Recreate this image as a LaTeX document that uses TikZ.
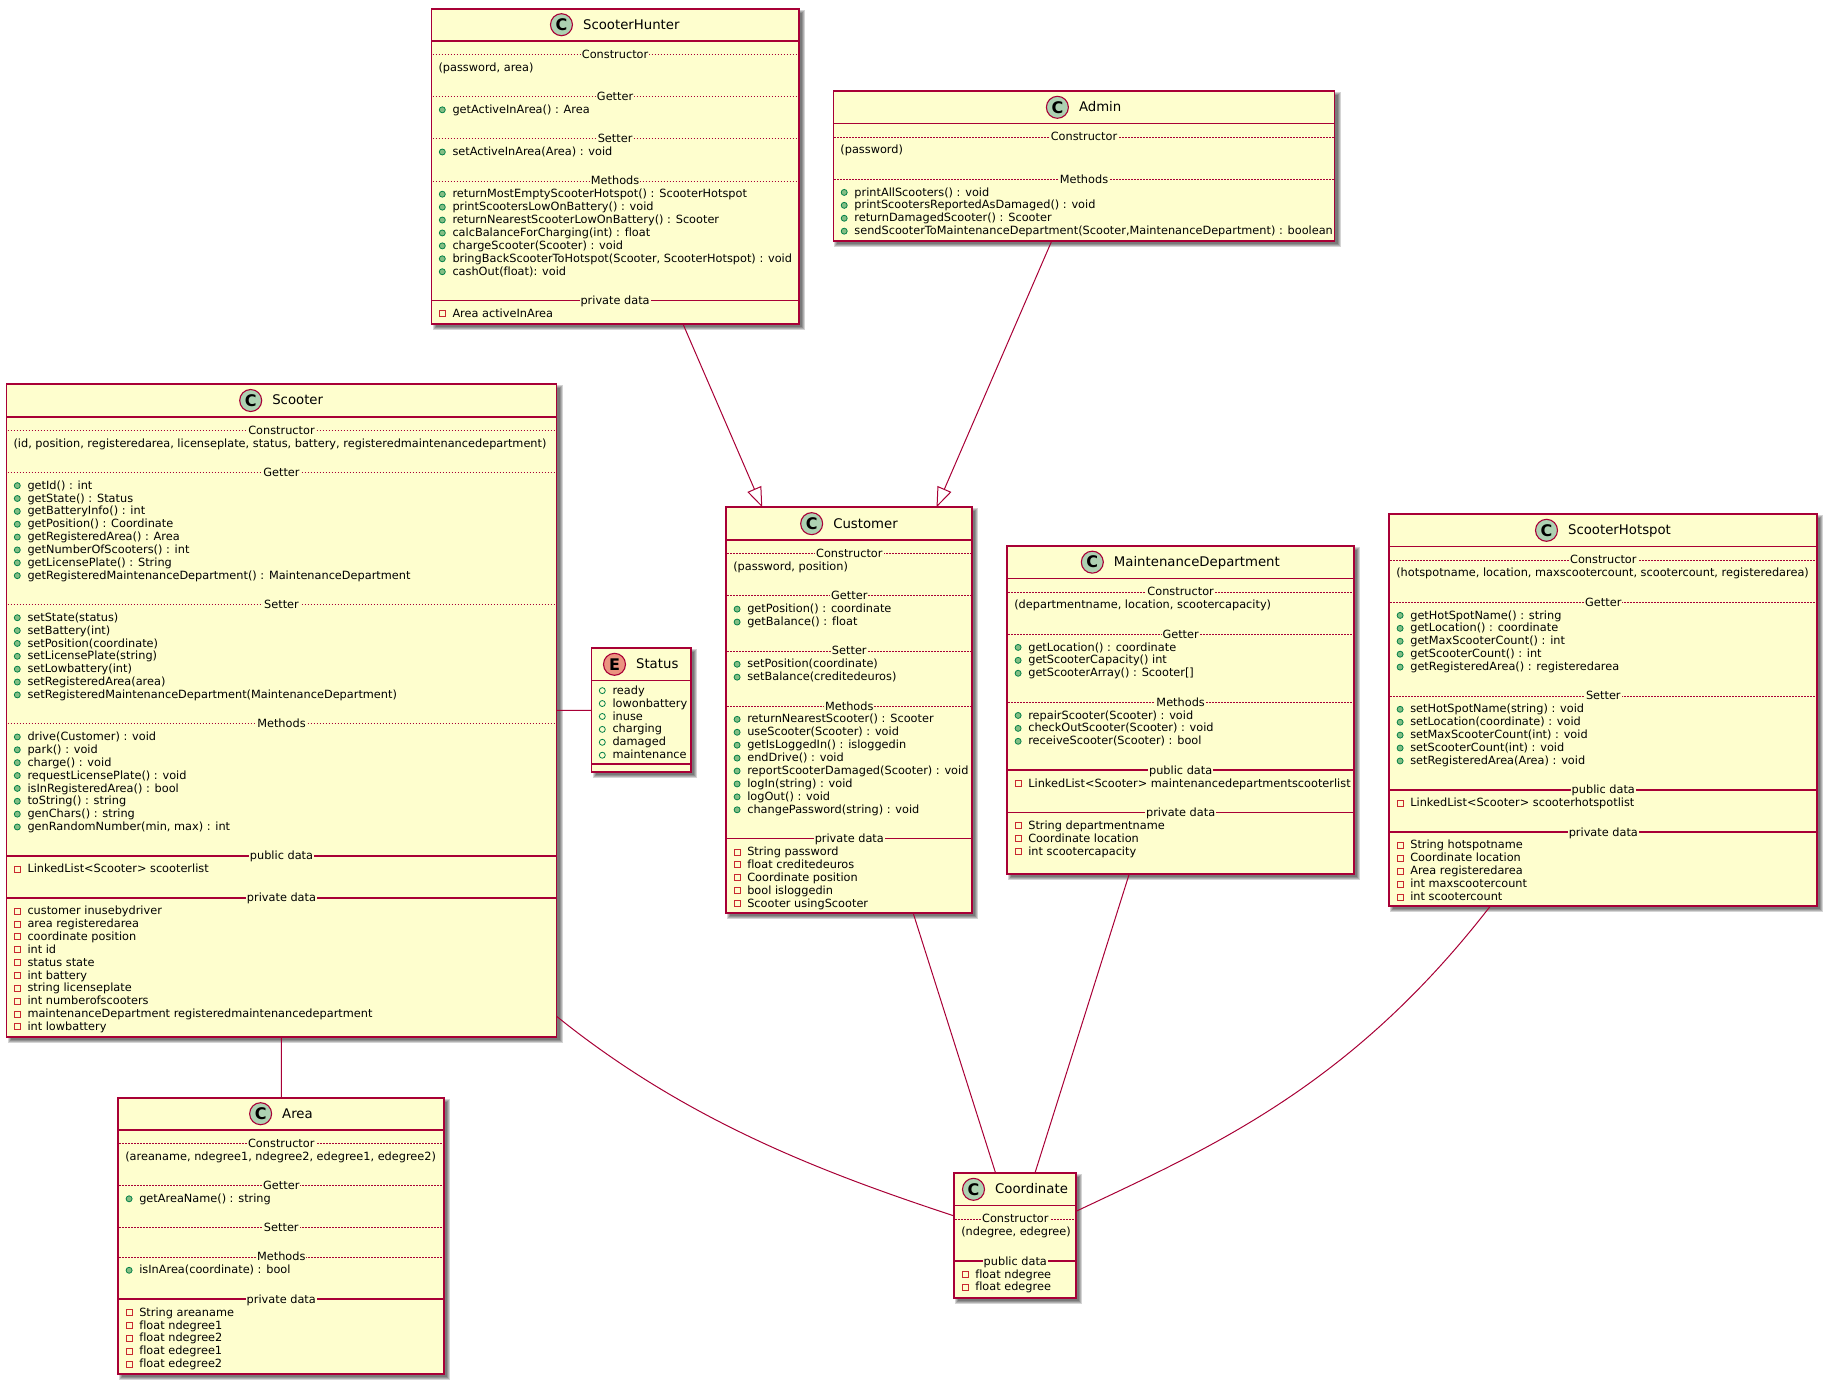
\documentclass[tikz,border=0pt]{standalone}
\usepackage{fontspec}
\setmainfont[Ligatures=NoCommon]{DejaVu Sans}
\usetikzlibrary{arrows.meta}

\definecolor{umlline}{HTML}{A80036}
\definecolor{umlfill}{HTML}{FEFECE}
\definecolor{classmark}{HTML}{ADD1B2}
\definecolor{enummark}{HTML}{EB937F}
\definecolor{pubfill}{HTML}{84BE84}
\definecolor{publine}{HTML}{038048}
\definecolor{privline}{HTML}{C82930}

\newcommand{\rowfont}{\fontsize{11.32}{13}\selectfont}
\newcommand{\titlefont}{\fontsize{13.28}{16}\selectfont}

\tikzset{
  boxshape/.style={draw=umlline, fill=umlfill, line width=1.8pt, rectangle, inner sep=0pt, outer sep=0pt},
  markshape/.style={draw=umlline, line width=1.1pt, circle, minimum size=22pt, inner sep=0pt,
    font=\fontsize{16}{16}\selectfont\bfseries, text=black},
  titletext/.style={anchor=base, inner sep=0pt, font=\titlefont, text=black},
  rowtext/.style={anchor=base west, inner sep=0pt, font=\rowfont, text=black},
  seplabel/.style={anchor=base, fill=umlfill, inner xsep=1pt, inner ysep=0pt, font=\rowfont, text=black},
  dotline/.style={draw=umlline, line width=0.7pt, dash pattern=on 1.2pt off 1.8pt},
  solidline/.style={draw=umlline, line width=1.6pt},
  pubicon/.style={circle, draw=publine, fill=pubfill, line width=0.8pt, minimum size=6pt, inner sep=0pt},
  fieldicon/.style={circle, draw=publine, fill=none, line width=0.8pt, minimum size=6pt, inner sep=0pt},
  privicon/.style={rectangle, draw=privline, fill=none, line width=0.9pt, minimum size=6pt, inner sep=0pt},
  assoc/.style={draw=umlline, line width=1pt},
  inherit/.style={assoc, -{Triangle[open, length=20pt, width=15pt]}}
}

\newcounter{rowid}
\newcommand{\rowstep}{12.92}

\newcommand{\nextrow}[1]{\pgfmathsetmacro\tmpy{\rowy+#1}\global\let\rowy\tmpy}

% name, left, top, right, bottom, header line, title, letter, mark colour
\newcommand{\classbox}[9]{
  \pgfmathsetmacro\boxw{#4-#2}
  \pgfmathsetmacro\boxh{#5-#3}
  \pgfmathsetmacro\boxc{(#2+#4)/2}
  \pgfmathsetmacro\boxm{(#3+#5)/2}
  \pgfmathsetmacro\headc{(#3+#6)/2}
  \foreach \e in {2.5,1.5,0.5,-0.5}{
    \fill[black, opacity=0.17] (#2+3.5-\e,#3+3.5-\e) rectangle (#4+3.5+\e,#5+3.5+\e);
  }
  \node[boxshape, minimum width=\boxw pt, minimum height=\boxh pt] (#1) at (\boxc,\boxm) {};
  \draw[solidline] (#2,#6) -- (#4,#6);
  \node[titletext] (#1title) at (\boxc,\headc+4.4) {\hspace*{32.4pt}#7};
  \node[markshape, fill=#9] (#1mark) at ([xshift=11pt,yshift=4.4pt]#1title.base west) {#8};
  \xdef\curbox{#1}\xdef\curL{#2}\xdef\curR{#4}\xdef\curC{\boxc}
  \pgfmathsetmacro\tmpy{#6-2.75}\global\let\rowy\tmpy
}

\newcommand{\blankrow}{\nextrow{\rowstep}}
\newcommand{\rawrow}[1]{
  \nextrow{\rowstep}\stepcounter{rowid}
  \node[rowtext] (\curbox\therowid) at (\curL+6.8,\rowy+4) {#1};
}
\newcommand{\iconrows}[2]{
  \foreach \lbl in {#2}{
    \nextrow{\rowstep}\stepcounter{rowid}
    \node[#1] (\curbox i\therowid) at (\curL+10.8,\rowy+0.4) {};
    \node[rowtext] (\curbox\therowid) at (\curL+20.8,\rowy+4) {\lbl};
  }
}
\newcommand{\pubrows}[1]{\iconrows{pubicon}{#1}}
\newcommand{\privrows}[1]{\iconrows{privicon}{#1}}
\newcommand{\dotsep}[1]{
  \nextrow{16.35}\stepcounter{rowid}
  \draw[dotline] (\curL+1,\rowy) -- (\curR-1,\rowy);
  \node[seplabel] (\curbox\therowid) at (\curC,\rowy+4) {#1};
}
\newcommand{\solidsep}[1]{
  \nextrow{16.35}\stepcounter{rowid}
  \draw[solidline] (\curL,\rowy) -- (\curR,\rowy);
  \node[seplabel] (\curbox\therowid) at (\curC,\rowy+4) {#1};
}

\begin{document}
\begin{tikzpicture}[x=1pt, y=-1pt]
  \useasboundingbox (0,0) rectangle (1827,1384);

  % Scooter hunter
  \classbox{hunter}{431.5}{8.7}{798.7}{324.3}{40.7}{ScooterHunter}{C}{classmark}
  \dotsep{Constructor}
  \rawrow{(password, area)}
  \blankrow
  \dotsep{Getter}
  \pubrows{getActiveInArea() : Area}
  \blankrow
  \dotsep{Setter}
  \pubrows{setActiveInArea(Area) : void}
  \blankrow
  \dotsep{Methods}
  \pubrows{returnMostEmptyScooterHotspot() : ScooterHotspot, printScootersLowOnBattery() : void,
    returnNearestScooterLowOnBattery() : Scooter, calcBalanceForCharging(int) : float,
    chargeScooter(Scooter) : void, {bringBackScooterToHotspot(Scooter, ScooterHotspot) : void},
    cashOut(float): void}
  \blankrow
  \solidsep{private data}
  \privrows{Area activeInArea}

  % Admin
  \classbox{admin}{833.4}{91.3}{1334.5}{241.3}{123.3}{Admin}{C}{classmark}
  \dotsep{Constructor}
  \rawrow{(password)}
  \blankrow
  \dotsep{Methods}
  \pubrows{printAllScooters() : void, printScootersReportedAsDamaged() : void,
    returnDamagedScooter() : Scooter,
    {sendScooterToMaintenanceDepartment(Scooter,MaintenanceDepartment) : boolean}}

  % Scooter
  \renewcommand{\rowstep}{12.86}
  \classbox{scooter}{6.5}{384.3}{556.5}{1037.3}{416.7}{Scooter}{C}{classmark}
  \dotsep{Constructor}
  \rawrow{(id, position, registeredarea, licenseplate, status, battery, registeredmaintenancedepartment)}
  \blankrow
  \dotsep{Getter}
  \pubrows{getId() : int, getState() : Status, getBatteryInfo() : int, getPosition() : Coordinate,
    getRegisteredArea() : Area, getNumberOfScooters() : int, getLicensePlate() : String,
    getRegisteredMaintenanceDepartment() : MaintenanceDepartment}
  \blankrow
  \dotsep{Setter}
  \pubrows{setState(status), setBattery(int), setPosition(coordinate), setLicensePlate(string),
    setLowbattery(int), setRegisteredArea(area),
    setRegisteredMaintenanceDepartment(MaintenanceDepartment)}
  \blankrow
  \dotsep{Methods}
  \pubrows{drive(Customer) : void, park() : void, charge() : void, requestLicensePlate() : void,
    isInRegisteredArea() : bool, toString() : string, genChars() : string,
    {genRandomNumber(min, max) : int}}
  \blankrow
  \solidsep{public data}
  \privrows{LinkedList<Scooter> scooterlist}
  \blankrow
  \solidsep{private data}
  \privrows{customer inusebydriver, area registeredarea, coordinate position, int id, status state,
    int battery, string licenseplate, int numberofscooters,
    maintenanceDepartment registeredmaintenancedepartment, int lowbattery}
  \renewcommand{\rowstep}{12.92}

  % Status enum
  \classbox{status}{591.5}{648.3}{690.6}{772.3}{680.3}{Status}{E}{enummark}
  \pgfmathsetmacro\rowy{677.3}
  \iconrows{fieldicon}{ready, lowonbattery, inuse, charging, damaged, maintenance}
  \draw[solidline] (591.5,764) -- (690.6,764);

  % Customer
  \classbox{customer}{726.3}{507.3}{972.3}{913.3}{540}{Customer}{C}{classmark}
  \dotsep{Constructor}
  \rawrow{(password, position)}
  \blankrow
  \dotsep{Getter}
  \pubrows{getPosition() : coordinate, getBalance() : float}
  \blankrow
  \dotsep{Setter}
  \pubrows{setPosition(coordinate), setBalance(creditedeuros)}
  \blankrow
  \dotsep{Methods}
  \pubrows{returnNearestScooter() : Scooter, useScooter(Scooter) : void, getIsLoggedIn() : isloggedin,
    endDrive() : void, reportScooterDamaged(Scooter) : void, logIn(string) : void, logOut() : void,
    changePassword(string) : void}
  \blankrow
  \solidsep{private data}
  \privrows{String password, float creditedeuros, Coordinate position, bool isloggedin,
    Scooter usingScooter}

  % Maintenance department
  \classbox{maintenance}{1007.3}{546}{1354}{874}{578.3}{MaintenanceDepartment}{C}{classmark}
  \dotsep{Constructor}
  \rawrow{(departmentname, location, scootercapacity)}
  \blankrow
  \dotsep{Getter}
  \pubrows{getLocation() : coordinate, getScooterCapacity() int, getScooterArray() : Scooter[]}
  \blankrow
  \dotsep{Methods}
  \pubrows{repairScooter(Scooter) : void, checkOutScooter(Scooter) : void, receiveScooter(Scooter) : bool}
  \blankrow
  \solidsep{public data}
  \privrows{LinkedList<Scooter> maintenancedepartmentscooterlist}
  \blankrow
  \solidsep{private data}
  \privrows{String departmentname, Coordinate location, int scootercapacity}

  % Scooter hotspot
  \classbox{hotspot}{1389.3}{514.3}{1817.3}{906.3}{546.3}{ScooterHotspot}{C}{classmark}
  \dotsep{Constructor}
  \rawrow{(hotspotname, location, maxscootercount, scootercount, registeredarea)}
  \blankrow
  \dotsep{Getter}
  \pubrows{getHotSpotName() : string, getLocation() : coordinate, getMaxScooterCount() : int,
    getScooterCount() : int, getRegisteredArea() : registeredarea}
  \blankrow
  \dotsep{Setter}
  \pubrows{setHotSpotName(string) : void, setLocation(coordinate) : void,
    setMaxScooterCount(int) : void, setScooterCount(int) : void, setRegisteredArea(Area) : void}
  \blankrow
  \solidsep{public data}
  \privrows{LinkedList<Scooter> scooterhotspotlist}
  \blankrow
  \solidsep{private data}
  \privrows{String hotspotname, Coordinate location, Area registeredarea, int maxscootercount,
    int scootercount}

  % Area
  \classbox{area}{118.3}{1097.7}{444.3}{1374.3}{1129.7}{Area}{C}{classmark}
  \dotsep{Constructor}
  \rawrow{(areaname, ndegree1, ndegree2, edegree1, edegree2)}
  \blankrow
  \dotsep{Getter}
  \pubrows{getAreaName() : string}
  \blankrow
  \dotsep{Setter}
  \blankrow
  \dotsep{Methods}
  \pubrows{isInArea(coordinate) : bool}
  \blankrow
  \solidsep{private data}
  \privrows{String areaname, float ndegree1, float ndegree2, float edegree1, float edegree2}

  % Coordinate
  \classbox{coord}{954.3}{1173.3}{1076.3}{1298.3}{1205.3}{Coordinate}{C}{classmark}
  \dotsep{Constructor}
  \rawrow{(ndegree, edegree)}
  \blankrow
  \solidsep{public data}
  \privrows{float ndegree, float edegree}

  % Inheritance
  \draw[inherit] (hunter) -- (customer);
  \draw[inherit] (admin) -- (customer);

  % Associations
  \draw[assoc] (scooter) -- (status);
  \draw[assoc] (scooter) -- (area);
  \draw[assoc] (customer) -- (coord);
  \draw[assoc] (maintenance) -- (coord);
  \draw[assoc] (scooter.-48.7) .. controls (687,1121.5) and (824,1173) .. (coord.162.6);
  \draw[assoc] (hotspot.-120.9) .. controls (1350.7,1086.5) and (1212,1147) .. (coord.22.1);
\end{tikzpicture}
\end{document}
